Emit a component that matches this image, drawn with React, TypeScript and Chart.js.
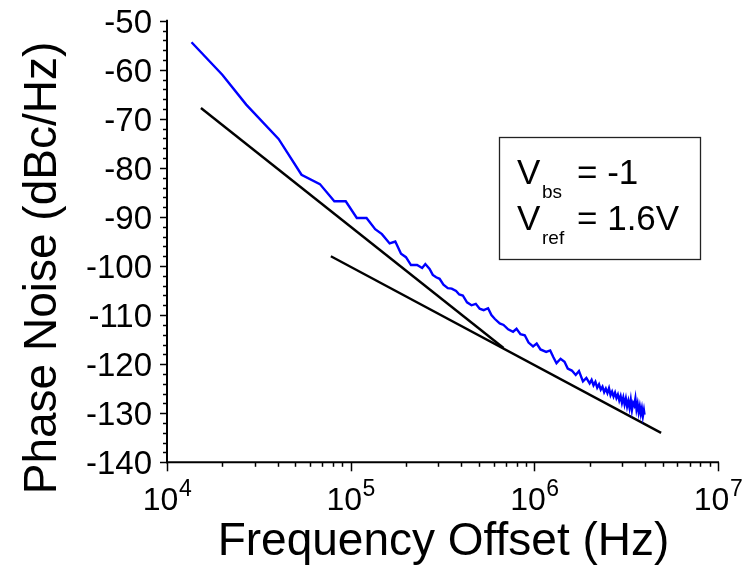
import React, { useEffect, useRef } from "react";
import { Chart, registerables } from "chart.js";

Chart.register(...registerables);

// Measured phase noise (blue trace)
const FREQ_HZ = [
  1.36e4, 2.0e4, 2.7e4, 4.05e4, 5.4e4, 6.8e4, 8.15e4, 9.4e4, 1.08e5, 1.22e5,
  1.36e5, 1.48e5, 1.63e5, 1.75e5, 1.88e5, 2.0e5, 2.13e5, 2.3e5, 2.45e5, 2.55e5,
  2.69e5, 2.8e5, 2.92e5, 3.05e5, 3.2e5, 3.38e5, 3.55e5, 3.75e5, 3.9e5, 4.08e5,
  4.3e5, 4.55e5, 4.8e5, 5.04e5, 5.3e5, 5.6e5, 5.84e5, 6.1e5, 6.48e5, 6.8e5,
  7.2e5, 7.66e5, 8.0e5, 8.4e5, 8.87e5, 9.3e5, 9.84e5, 1.03e6, 1.08e6, 1.16e6,
  1.22e6, 1.27e6, 1.32e6, 1.39e6, 1.46e6, 1.52e6, 1.6e6, 1.68e6, 1.75e6, 1.84e6,
  1.92e6, 2.0e6, 2.05e6, 2.1e6, 2.15e6, 2.2e6, 2.25e6, 2.3e6, 2.35e6, 2.4e6,
  2.45e6, 2.5e6, 2.55e6, 2.6e6, 2.65e6, 2.7e6, 2.75e6, 2.8e6, 2.85e6, 2.9e6,
  2.95e6, 3.0e6, 3.05e6, 3.1e6, 3.15e6, 3.2e6, 3.25e6, 3.3e6, 3.35e6, 3.4e6,
  3.45e6, 3.5e6, 3.55e6, 3.6e6, 3.65e6, 3.7e6, 3.75e6, 3.8e6, 3.85e6, 3.9e6,
  3.95e6, 3.98e6,
];
const NOISE_DBC = [
  -54.4, -61.0, -67.1, -74.1, -81.4, -83.3, -86.8, -86.8, -90.2, -90.2,
  -92.5, -93.5, -95.4, -95.0, -97.5, -98.2, -99.8, -99.8, -100.4, -99.6,
  -100.6, -101.8, -102.3, -102.6, -103.8, -104.5, -104.6, -105.1, -105.8, -106.0,
  -107.4, -108.0, -107.7, -108.7, -109.0, -108.6, -110.0, -110.8, -111.7, -112.0,
  -112.9, -113.4, -112.8, -113.9, -114.1, -115.6, -116.4, -115.8, -117.0, -117.5,
  -117.2, -118.6, -119.8, -118.9, -119.5, -120.9, -121.3, -122.2, -121.4, -123.5,
  -122.8, -123.9, -123.2, -124.3, -123.6, -124.8, -124.1, -125.2, -124.6, -125.7,
  -125.0, -125.9, -124.9, -126.3, -125.6, -126.6, -125.8, -126.9, -126.2, -127.4,
  -126.5, -127.9, -126.8, -128.2, -127.0, -128.6, -127.5, -128.9, -127.3, -129.3,
  -127.9, -128.4, -127.0, -129.2, -128.1, -129.8, -128.6, -130.1, -129.0, -130.6,
  -129.4, -130.3,
];

// Asymptote lines (black)
const LINE1_F = [1.53e4, 6.8e5];
const LINE1_DB = [-67.8, -116.7];
const LINE2_F = [7.8e4, 4.9e6];
const LINE2_DB = [-98.0, -134.0];

// Axes
const Y_MIN = -140;
const Y_MAX = -50;
const Y_MAJOR = [-50, -60, -70, -80, -90, -100, -110, -120, -130, -140];
const X_DECADES = [4, 5, 6, 7];

const X_TITLE = "Frequency Offset (Hz)";
const Y_TITLE = "Phase Noise (dBc/Hz)";
const LEGEND_LINES = [
  { main: "V", sub: "bs", rest: "= -1" },
  { main: "V", sub: "ref", rest: "= 1.6V" },
];

const FONT = '"Liberation Sans", Arial, Helvetica, sans-serif';

const toPts = (xs: number[], ys: number[]) => xs.map((x, i) => ({ x, y: ys[i] }));

const axesPlugin = {
  id: "customAxes",
  afterDraw(chart: any) {
    const { ctx, scales } = chart;
    const x = scales.x;
    const y = scales.y;
    ctx.save();
    ctx.strokeStyle = "#000";
    ctx.fillStyle = "#000";
    ctx.lineWidth = 2;
    const yTop = y.getPixelForValue(Y_MAX);
    const yBot = y.getPixelForValue(Y_MIN);
    const xL = x.getPixelForValue(1e4);
    const xR = x.getPixelForValue(1e7);

    // Y axis line
    ctx.beginPath();
    ctx.moveTo(xL, yTop - 1);
    ctx.lineTo(xL, yBot + 1);
    ctx.stroke();
    // X axis line
    ctx.beginPath();
    ctx.moveTo(xL - 1, yBot);
    ctx.lineTo(xR + 1, yBot);
    ctx.stroke();

    // Y ticks
    ctx.lineWidth = 1.5;
    for (let v = Y_MIN; v <= Y_MAX; v += 2) {
      const py = Math.round(y.getPixelForValue(v)) + 0.5;
      const major = v % 10 === 0;
      ctx.beginPath();
      ctx.moveTo(xL - (major ? 7 : 4), py);
      ctx.lineTo(xL, py);
      ctx.stroke();
    }
    // X ticks
    const lastDec = X_DECADES[X_DECADES.length - 1];
    for (let d = X_DECADES[0]; d <= lastDec; d++) {
      for (let m = 1; m <= 9; m++) {
        if (d === lastDec && m > 1) break;
        const px = Math.round(x.getPixelForValue(m * Math.pow(10, d))) + 0.5;
        const major = m === 1;
        ctx.beginPath();
        ctx.moveTo(px, yBot);
        ctx.lineTo(px, yBot + (major ? 9 : 4.5));
        ctx.stroke();
      }
    }

    // Y tick labels
    ctx.font = `33px ${FONT}`;
    ctx.textAlign = "right";
    ctx.textBaseline = "alphabetic";
    Y_MAJOR.forEach((v) => {
      ctx.fillText(String(v), xL - 15, y.getPixelForValue(v) + 12);
    });

    // X tick labels 10^n
    X_DECADES.forEach((d) => {
      const px = x.getPixelForValue(Math.pow(10, d));
      ctx.font = `32px ${FONT}`;
      const wb = ctx.measureText("10").width;
      ctx.font = `23px ${FONT}`;
      const we = ctx.measureText(String(d)).width;
      const start = px - (wb + we) / 2;
      ctx.textAlign = "left";
      ctx.font = `32px ${FONT}`;
      ctx.fillText("10", start, yBot + 48);
      ctx.font = `23px ${FONT}`;
      ctx.fillText(String(d), start + wb + 0.5, yBot + 34);
    });

    // Axis titles
    ctx.font = `46px ${FONT}`;
    ctx.textAlign = "center";
    ctx.fillText(X_TITLE, (xL + xR) / 2 + 1, 555);
    ctx.save();
    ctx.translate(56, 268);
    ctx.rotate(-Math.PI / 2);
    ctx.fillText(Y_TITLE, 0, 0);
    ctx.restore();

    // Legend box
    ctx.lineWidth = 1.3;
    ctx.strokeStyle = "#222";
    ctx.strokeRect(499.5, 137.5, 201, 122);
    ctx.textAlign = "left";
    const baselines = [184, 230];
    LEGEND_LINES.forEach((ln, i) => {
      const b = baselines[i];
      ctx.font = `35px ${FONT}`;
      ctx.fillText(ln.main, 517, b);
      ctx.font = `19px ${FONT}`;
      ctx.fillText(ln.sub, 542, b + 14);
      ctx.font = `35px ${FONT}`;
      ctx.fillText(ln.rest, 577, b);
    });
    ctx.restore();
  },
};

export default function App() {
  const ref = useRef<HTMLCanvasElement | null>(null);
  useEffect(() => {
    document.body.style.margin = "0";
    const canvas = ref.current;
    if (!canvas) return;
    const chart = new Chart(canvas, {
      type: "line",
      data: {
        datasets: [
          {
            label: "Measured",
            data: toPts(FREQ_HZ, NOISE_DBC),
            borderColor: "#0000ff",
            borderWidth: 2.4,
            pointRadius: 0,
            tension: 0,
          },
          {
            label: "Slope -30",
            data: toPts(LINE1_F, LINE1_DB),
            borderColor: "#000000",
            borderWidth: 2.4,
            pointRadius: 0,
            tension: 0,
          },
          {
            label: "Slope -20",
            data: toPts(LINE2_F, LINE2_DB),
            borderColor: "#000000",
            borderWidth: 2.4,
            pointRadius: 0,
            tension: 0,
          },
        ],
      },
      options: {
        responsive: false,
        animation: false,
        devicePixelRatio: 1,
        layout: { padding: { left: 167, top: 20.7, right: 34, bottom: 104.7 } },
        plugins: { legend: { display: false }, tooltip: { enabled: false } },
        scales: {
          x: { type: "logarithmic", min: 1e4, max: 1e7, display: false },
          y: { type: "linear", min: Y_MIN, max: Y_MAX, display: false },
        },
      },
      plugins: [axesPlugin],
    });
    return () => chart.destroy();
  }, []);
  return (
    <div style={{ width: 752, height: 567, background: "#fff" }}>
      <canvas ref={ref} width={752} height={567} style={{ display: "block" }} />
    </div>
  );
}
